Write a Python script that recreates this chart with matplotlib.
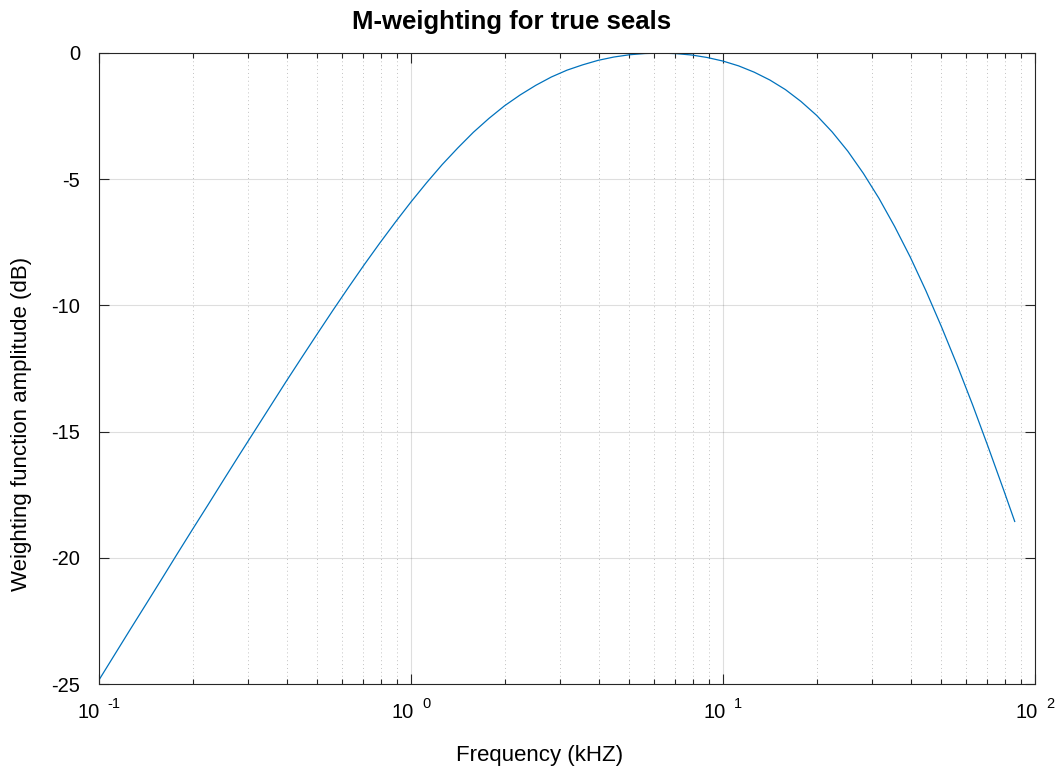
import matplotlib
matplotlib.use("Agg")
import matplotlib.pyplot as plt
from matplotlib.ticker import FixedLocator, NullFormatter
import matplotlib.transforms as mtransforms

plt.rcParams['font.family'] = ['Liberation Sans', 'DejaVu Sans']
plt.rcParams['axes.unicode_minus'] = False

# Data (frequency in kHz, weighting in dB)
freq_khz = [0.1, 0.1122, 0.1259, 0.1413, 0.1585, 0.1778, 0.1995, 0.2239, 0.2512, 0.2818,
            0.3162, 0.3548, 0.3981, 0.4467, 0.5012, 0.5623, 0.6310, 0.7079, 0.7943, 0.8913,
            1.0, 1.122, 1.259, 1.413, 1.585, 1.778, 1.995, 2.239, 2.512, 2.818,
            3.162, 3.548, 3.981, 4.467, 5.012, 5.623, 6.310, 7.079, 7.943, 8.913,
            10.0, 11.22, 12.59, 14.13, 15.85, 17.78, 19.95, 22.39, 25.12, 28.18,
            31.62, 35.48, 39.81, 44.67, 50.12, 56.23, 63.10, 70.79, 79.43, 86.1]
weight_db = [-24.84, -23.84, -22.84, -21.85, -20.86, -19.86, -18.87, -17.89, -16.90, -15.92,
             -14.95, -13.98, -13.01, -12.06, -11.12, -10.19, -9.28, -8.39, -7.53, -6.70,
             -5.90, -5.14, -4.42, -3.76, -3.14, -2.59, -2.09, -1.66, -1.28, -0.95,
             -0.68, -0.47, -0.29, -0.16, -0.07, -0.02, -0.003, -0.025, -0.08, -0.18,
             -0.32, -0.51, -0.76, -1.07, -1.45, -1.92, -2.47, -3.13, -3.89, -4.77,
             -5.76, -6.87, -8.08, -9.41, -10.84, -12.35, -13.94, -15.61, -17.33, -18.56]

x_major = [0.1, 1, 10, 100]
x_exponents = ['-1', '0', '1', '2']
y_ticks = [-25, -20, -15, -10, -5, 0]

W, H = 1061, 776
fig = plt.figure(figsize=(W / 100, H / 100), dpi=100)
ax = fig.add_axes([99 / W, 1 - 684 / H, (1035 - 99) / W, (684 - 53) / H])

ax.plot(freq_khz, weight_db, color='#0072BD', lw=0.9)

ax.set_xscale('log')
ax.set_xlim(0.1, 100)
ax.set_ylim(-25, 0)

ax.xaxis.set_major_locator(FixedLocator(x_major))
minors = [m * d for d in [0.1, 1, 10] for m in range(2, 10)]
ax.xaxis.set_minor_locator(FixedLocator(minors))
ax.xaxis.set_minor_formatter(NullFormatter())
ax.xaxis.set_major_formatter(NullFormatter())
ax.set_yticks(y_ticks)
ax.set_yticklabels([str(t) for t in y_ticks])

axcol = '#262626'
for s in ax.spines.values():
    s.set_color(axcol)
    s.set_linewidth(0.8)
ax.tick_params(which='both', direction='in', top=True, right=True, colors=axcol,
               labelcolor='black', labelsize=14.5, width=0.8)
ax.tick_params(which='major', length=7)
ax.tick_params(which='minor', length=3.5)
ax.tick_params(axis='y', which='major', pad=13.5)

ax.grid(True, which='major', color='#262626', alpha=0.15, lw=0.8, ls='-')
ax.grid(True, which='minor', axis='x', color='#262626', alpha=0.28, lw=0.7, ls=(0, (1, 3)))
ax.set_axisbelow(True)

# x tick labels "10" with a raised exponent
fs_base, fs_exp = 14.5, 10.5
cw = {'0': 0.556, '1': 0.556, '2': 0.556, '-': 0.333}
gap_pt = 5.5
base_w = 2 * 0.556 * fs_base
btrans = mtransforms.blended_transform_factory(ax.transData, ax.transAxes)
for xv, ex in zip(x_major, x_exponents):
    exp_w = sum(cw[c] for c in ex) * fs_exp
    total = base_w + gap_pt + exp_w
    t1 = mtransforms.offset_copy(btrans, fig=fig, x=-total / 2, y=-28 * 0.72, units='points')
    ax.text(xv, 0, '10', transform=t1, ha='left', va='center', fontsize=fs_base, clip_on=False)
    t2 = mtransforms.offset_copy(btrans, fig=fig, x=-total / 2 + base_w + gap_pt,
                                 y=-20 * 0.72, units='points')
    ax.text(xv, 0, ex, transform=t2, ha='left', va='center', fontsize=fs_exp, clip_on=False)

fig.text(512 / W, 1 - 22 / H, 'M-weighting for true seals', fontsize=18.5,
         fontweight='bold', ha='center', va='center')
fig.text(539.5 / W, 1 - 755 / H, 'Frequency (kHZ)', fontsize=16, ha='center', va='center')
fig.text(22 / W, 1 - 424 / H, 'Weighting function amplitude (dB)', fontsize=16,
         ha='center', va='center', rotation=90)

fig.savefig('out.png', dpi=100, facecolor='white')
